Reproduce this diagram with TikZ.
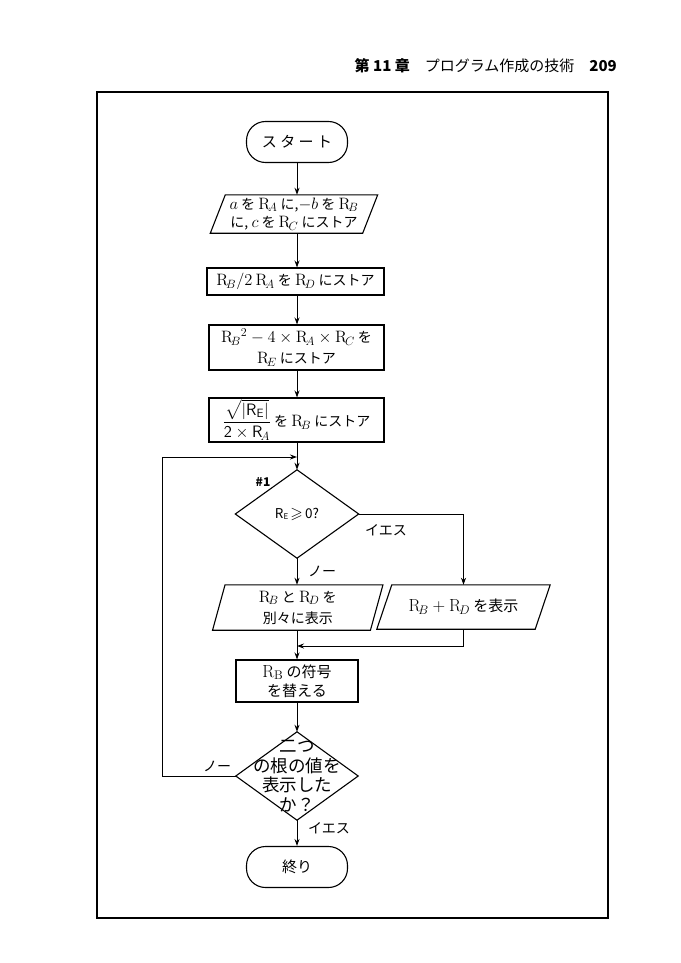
\RequirePackage{fix-cm}
\documentclass[tikz,border=0pt]{standalone}
\usepackage{amssymb}
\usepackage[no-math]{fontspec}
\setmainfont{Noto Sans CJK JP}
\DeclareMathSizes{14}{16.5}{12}{9}
\DeclareMathSizes{15}{17.5}{12.5}{9.5}
\DeclareMathSizes{13.5}{16}{11.5}{9}
\usetikzlibrary{arrows.meta}
\newcommand\Rx[1]{\mathrm{R}_{\!#1}}
\newcommand\fs[2]{\fontsize{#1}{#2}\selectfont}
\newcommand\paraoutline[2]{\draw[shapeline] ([xshift=#2]#1.north west) -- ([xshift=#2]#1.north east) -- ([xshift=-#2]#1.south east) -- ([xshift=-#2]#1.south west) -- cycle;}
\newcommand\diaoutline[1]{\draw[shapeline] (#1.north) -- (#1.east) -- (#1.south) -- (#1.west) -- cycle;}
\begin{document}
\begin{tikzpicture}[x=1pt,y=-1pt,
  shapeline/.style={line width=1.1pt, line join=miter},
  txt/.style={inner sep=0pt, align=center, font=\fs{14}{17}},
  boxn/.style={txt, draw, line width=1.1pt},
  term/.style={boxn, rounded corners=19pt, minimum width=101pt, minimum height=41pt, font=\fs{15}{18}},
  arr/.style={line width=1pt, -{Stealth[length=7pt,width=5pt]}},
  conn/.style={line width=1pt},
  lbl/.style={inner sep=0pt, font=\fs{14}{16}}]
\useasboundingbox (0,0) rectangle (680,963);
% header
\node[anchor=east, inner sep=0pt, font=\fs{15}{18}] (hdr) at (617,66)
  {\textbf{第 11 章}\hspace{1em}プログラム作成の技術\hspace{1em}\textbf{209}};
% frame
\draw[line width=2.2pt] (97,92) rectangle (608,918);

% nodes
\node[term] (start) at (297,142) {ス タ ー ト};
\node[txt, minimum width=152pt, minimum height=38pt, font=\fs{14}{18.5}] (in1) at (294,214)
  {$a$ を $\Rx{A}$ に,$-b$ を $\Rx{B}$\\に, $c$ を $\Rx{C}$ にストア};
\paraoutline{in1}{7.5pt}
\node[boxn, minimum width=177pt, minimum height=27pt] (p2) at (295.5,281.5)
  {$\Rx{B}/2\ \Rx{A}$ を $\Rx{D}$ にストア};
\node[boxn, minimum width=175pt, minimum height=45pt, font=\fs{14}{21}] (p3) at (296.5,347.5)
  {$\Rx{B}{}^2-4\times\Rx{A}\times\Rx{C}$ を\\$\Rx{E}$ にストア};
\node[boxn, minimum width=175pt, minimum height=44pt] (p4) at (296.5,420)
  {$\displaystyle\frac{\sqrt{|\mathsf{R}_{\mathsf{E}}|}}{\mathsf{2}\times\mathsf{R}_{\!A}}$ を $\Rx{B}$ にストア};
\coordinate (j1) at (297,457);
\node[txt, minimum width=123pt, minimum height=88pt, font=\fs{13.5}{15}] (d1) at (297,514)
  {R\raisebox{-1.5pt}{\fs{8}{9}E}\,$\geqslant$\,0?};
\diaoutline{d1}
\node[txt, minimum width=157.5pt, minimum height=45pt, font=\fs{14}{21}] (in2) at (297.75,607.5)
  {$\Rx{B}$ と $\Rx{D}$ を\\別々に表示};
\paraoutline{in2}{6.25pt}
\node[txt, minimum width=158pt, minimum height=44pt, font=\fs{15}{18}] (in3) at (463.5,607)
  {$\Rx{B}+\Rx{D}$ を表示};
\paraoutline{in3}{7.5pt}
\coordinate (j2) at (297,646);
\node[boxn, minimum width=122pt, minimum height=42pt, font=\fs{15}{19}] (p5) at (297,681)
  {$\mathrm{R}_{\mathrm{B}}$ の符号\\を替える};
\node[txt, minimum width=122pt, minimum height=88pt, font=\fs{17.5}{19.5}] (d2) at (297,776)
  {二つ\\の根の値を\\表示した\\か？};
\diaoutline{d2}
\node[term] (end) at (297,867) {終り};
\coordinate (loopx) at (162,0);

% labels
\node[lbl, font=\bfseries\fs{12}{14}] (l1) at (263,482) {\#1};
\node[lbl] (l2) at (386,530) {イエス};
\node[lbl] (l3) at (322,571) {ノー};
\node[lbl] (l4) at (217,766) {ノー};
\node[lbl] (l5) at (329,828) {イエス};

% connectors
\draw[arr] (start.south) -- (in1.north -| start);
\draw[arr] (in1.south -| start) -- (p2.north -| start);
\draw[arr] (p2.south -| start) -- (p3.north -| start);
\draw[arr] (p3.south -| start) -- (p4.north -| start);
\draw[arr] (p4.south -| start) -- (d1.north);
\draw[arr] (d2.west) -- (d2.west -| loopx) |- (j1);
\draw[arr] (d1.east) -| (in3.north);
\draw[arr] (d1.south) -- (in2.north -| d1);
\draw[arr] (in2.south -| d1) -- (p5.north);
\draw[arr] (in3.south) |- (j2);
\draw[arr] (p5.south) -- (d2.north);
\draw[arr] (d2.south) -- (end.north);
\end{tikzpicture}
\end{document}
